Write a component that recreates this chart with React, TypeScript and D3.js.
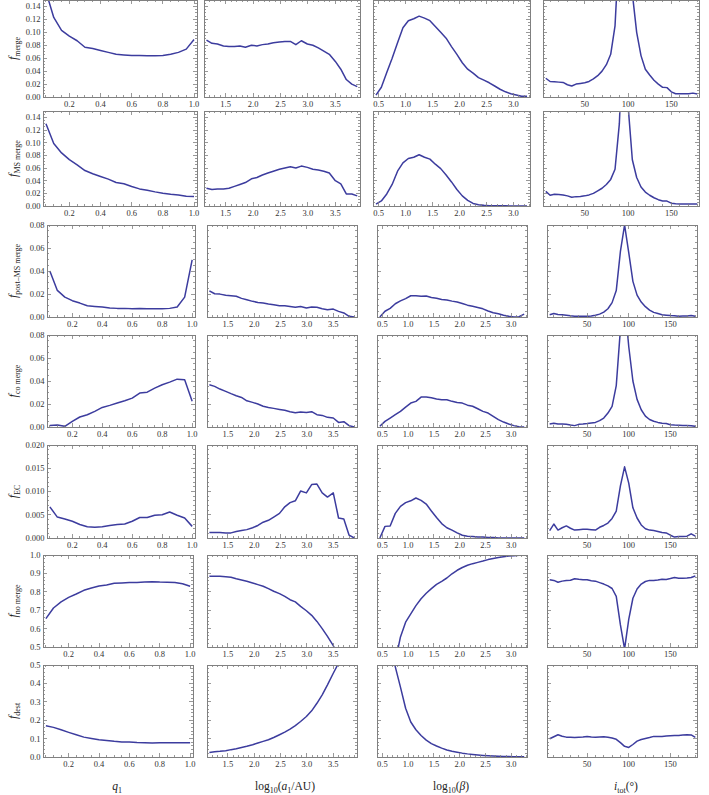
import React from "react";
import * as d3 from "d3";

// x grids of the four columns
const qVals = [0.05, 0.1, 0.15, 0.2, 0.25, 0.3, 0.35, 0.4, 0.45, 0.5, 0.55, 0.6, 0.65, 0.7, 0.75, 0.8, 0.85, 0.9, 0.95, 1.0];
const logAVals = [1.15, 1.25, 1.35, 1.46, 1.56, 1.66, 1.76, 1.86, 1.97, 2.07, 2.17, 2.27, 2.37, 2.48, 2.58, 2.68, 2.78, 2.88, 2.99, 3.09, 3.19, 3.29, 3.39, 3.5, 3.6, 3.7, 3.8, 3.9];
const logBetaVals = [0.45, 0.55, 0.65, 0.75, 0.85, 0.95, 1.05, 1.15, 1.25, 1.35, 1.45, 1.55, 1.65, 1.75, 1.85, 1.95, 2.05, 2.15, 2.25, 2.35, 2.45, 2.55, 2.65, 2.75, 2.85, 2.95, 3.05, 3.15, 3.25];
const incVals = [5, 10, 15, 20, 25, 30, 35, 40, 45, 50, 55, 60, 65, 70, 75, 80, 85, 90, 95, 100, 105, 110, 115, 120, 125, 130, 135, 140, 145, 150, 155, 160, 165, 170, 175, 180];

// f_merge
const mergeQ = [0.163, 0.123, 0.103, 0.094, 0.087, 0.077, 0.075, 0.072, 0.069, 0.066, 0.065, 0.064, 0.064, 0.0637, 0.0637, 0.064, 0.066, 0.069, 0.074, 0.089];
const mergeA = [0.088, 0.083, 0.082, 0.079, 0.078, 0.078, 0.079, 0.077, 0.08, 0.079, 0.081, 0.082, 0.084, 0.085, 0.086, 0.086, 0.081, 0.087, 0.082, 0.08, 0.076, 0.071, 0.066, 0.055, 0.043, 0.027, 0.02, 0.016];
const mergeB = [0.003, 0.015, 0.038, 0.06, 0.084, 0.107, 0.118, 0.121, 0.125, 0.122, 0.118, 0.109, 0.1, 0.091, 0.078, 0.066, 0.053, 0.043, 0.037, 0.03, 0.026, 0.022, 0.017, 0.012, 0.008, 0.005, 0.003, 0.001, 0.001];
const mergeI = [0.029, 0.024, 0.0235, 0.023, 0.0225, 0.019, 0.017, 0.02, 0.021, 0.022, 0.024, 0.028, 0.033, 0.04, 0.05, 0.066, 0.11, 0.24, 0.4, 0.3, 0.16, 0.1, 0.064, 0.043, 0.034, 0.026, 0.02, 0.015, 0.0145, 0.008, 0.005, 0.005, 0.005, 0.005, 0.006, 0.0045];

// f_MS merge
const msMergeQ = [0.13, 0.0987, 0.0838, 0.0732, 0.065, 0.056, 0.051, 0.0467, 0.0424, 0.0371, 0.035, 0.0308, 0.027, 0.025, 0.0223, 0.02, 0.0186, 0.0175, 0.0154, 0.0149];
const msMergeA = [0.028, 0.026, 0.027, 0.027, 0.028, 0.031, 0.034, 0.037, 0.043, 0.045, 0.049, 0.052, 0.055, 0.058, 0.06, 0.062, 0.06, 0.063, 0.061, 0.058, 0.057, 0.055, 0.052, 0.04, 0.035, 0.019, 0.019, 0.016];
const msMergeB = [0.003, 0.008, 0.019, 0.034, 0.055, 0.068, 0.075, 0.077, 0.081, 0.077, 0.074, 0.066, 0.059, 0.049, 0.038, 0.026, 0.016, 0.009, 0.004, 0.002, 0.001, 0.0005, 0.0003, 0.0002, 0.0002, 0.0001, 0.0001, 0, 0];
const msMergeI = [0.023, 0.017, 0.0185, 0.018, 0.0175, 0.016, 0.0138, 0.0148, 0.015, 0.016, 0.0175, 0.02, 0.024, 0.028, 0.034, 0.042, 0.058, 0.13, 0.3, 0.16, 0.073, 0.045, 0.03, 0.022, 0.017, 0.013, 0.01, 0.008, 0.0078, 0.0045, 0.0035, 0.003, 0.003, 0.003, 0.0032, 0.003];

// f_post-MS merge
const postQ = [0.04, 0.0231, 0.0173, 0.0142, 0.0121, 0.0098, 0.0092, 0.0087, 0.0078, 0.0075, 0.0075, 0.0072, 0.0074, 0.0072, 0.0072, 0.0072, 0.0075, 0.0087, 0.0173, 0.0497];
const postA = [0.0228, 0.0202, 0.0199, 0.019, 0.0185, 0.018, 0.0162, 0.015, 0.0136, 0.0127, 0.0121, 0.0113, 0.0107, 0.0098, 0.0098, 0.0092, 0.0084, 0.0092, 0.0078, 0.0087, 0.0084, 0.0072, 0.0064, 0.0069, 0.0049, 0.0035, 0.0006, 0];
const postB = [0, 0.005, 0.0075, 0.0115, 0.014, 0.016, 0.0185, 0.0185, 0.018, 0.0183, 0.017, 0.0163, 0.0152, 0.0148, 0.0138, 0.013, 0.0118, 0.0103, 0.0093, 0.0083, 0.0071, 0.0052, 0.0037, 0.0028, 0.0016, 0.0007, 0.0001, 0.0003, 0.0025];
const postI = [0.002, 0.003, 0.0022, 0.002, 0.0015, 0.001, 0.0007, 0.0006, 0.0006, 0.0006, 0.0008, 0.0015, 0.0025, 0.0043, 0.0072, 0.0125, 0.023, 0.057, 0.08, 0.056, 0.031, 0.019, 0.013, 0.009, 0.006, 0.004, 0.003, 0.002, 0.0016, 0.0012, 0.001, 0.0007, 0.0008, 0.0009, 0.0014, 0.0007];

// f_co merge
const coQ = [0.0014, 0.0017, 0.0006, 0.0049, 0.0087, 0.0107, 0.0136, 0.017, 0.0188, 0.0208, 0.0228, 0.0251, 0.0295, 0.0303, 0.0338, 0.0367, 0.039, 0.0416, 0.041, 0.0223];
const coA = [0.0367, 0.0353, 0.033, 0.031, 0.029, 0.0272, 0.0257, 0.0228, 0.0214, 0.02, 0.018, 0.017, 0.0162, 0.0153, 0.0145, 0.0133, 0.0124, 0.013, 0.0127, 0.0133, 0.0107, 0.0101, 0.0084, 0.0078, 0.004, 0.0046, 0.0012, 0];
const coB = [0.0006, 0.0049, 0.0078, 0.0107, 0.0136, 0.0173, 0.0208, 0.0223, 0.026, 0.026, 0.0254, 0.0243, 0.0237, 0.0237, 0.0223, 0.0214, 0.0208, 0.019, 0.018, 0.0159, 0.0136, 0.0121, 0.0092, 0.0064, 0.0043, 0.0026, 0.0012, 0.0003, 0];
const coI = [0.0026, 0.0032, 0.0026, 0.0026, 0.0023, 0.0017, 0.0012, 0.0023, 0.0026, 0.003, 0.0035, 0.004, 0.0055, 0.0078, 0.0121, 0.018, 0.036, 0.085, 0.11, 0.07, 0.04, 0.024, 0.015, 0.0095, 0.0065, 0.005, 0.004, 0.0033, 0.003, 0.002, 0.0017, 0.0015, 0.0012, 0.0012, 0.001, 0.0006];

// f_EC
const ecQ = [0.0067, 0.0045, 0.0041, 0.0036, 0.0029, 0.0024, 0.0023, 0.0024, 0.0027, 0.0029, 0.003, 0.0036, 0.0044, 0.0044, 0.0049, 0.005, 0.0056, 0.0049, 0.0043, 0.0025];
const ecA = [0.0012, 0.0012, 0.0012, 0.0011, 0.0011, 0.0014, 0.0016, 0.0018, 0.0022, 0.0027, 0.0034, 0.0038, 0.0045, 0.0053, 0.0067, 0.0076, 0.008, 0.0101, 0.0097, 0.0115, 0.0116, 0.0097, 0.0088, 0.0097, 0.0043, 0.0041, 0.0006, 0];
const ecB = [0, 0.0025, 0.0026, 0.0053, 0.0068, 0.0076, 0.008, 0.0086, 0.0081, 0.0073, 0.0058, 0.0044, 0.0031, 0.0022, 0.0017, 0.0011, 0.0006, 0.0004, 0.0003, 0.0002, 0.0002, 0.0001, 0.0001, 0, 0, 0, 0, 0, 0];
const ecI = [0.0016, 0.003, 0.0017, 0.0022, 0.0026, 0.0021, 0.0017, 0.0018, 0.0019, 0.0019, 0.0018, 0.0017, 0.0023, 0.0027, 0.0032, 0.0042, 0.0058, 0.0112, 0.0153, 0.0118, 0.0065, 0.0043, 0.0028, 0.002, 0.0017, 0.0016, 0.0014, 0.0012, 0.0011, 0.0006, 0.0002, 0.0003, 0.0003, 0.0004, 0.0009, 0.0004];

// f_no merge
const noMergeQ = [0.654, 0.712, 0.745, 0.77, 0.788, 0.808, 0.821, 0.832, 0.837, 0.846, 0.848, 0.85, 0.851, 0.853, 0.855, 0.853, 0.852, 0.85, 0.844, 0.83];
const noMergeA = [0.884, 0.884, 0.884, 0.882, 0.879, 0.871, 0.864, 0.857, 0.848, 0.839, 0.83, 0.817, 0.803, 0.79, 0.775, 0.757, 0.745, 0.721, 0.697, 0.672, 0.639, 0.6, 0.558, 0.507, 0.45, 0.39, 0.33, 0.26];
const noMergeB = [0.14, 0.23, 0.34, 0.42, 0.555, 0.635, 0.68, 0.725, 0.762, 0.792, 0.817, 0.84, 0.857, 0.875, 0.898, 0.917, 0.932, 0.944, 0.953, 0.96, 0.967, 0.975, 0.981, 0.987, 0.991, 0.994, 0.996, 0.998, 1.0];
const noMergeI = [0.866, 0.862, 0.852, 0.858, 0.862, 0.863, 0.871, 0.868, 0.866, 0.865, 0.86, 0.858, 0.85, 0.842, 0.832, 0.818, 0.775, 0.62, 0.49, 0.65, 0.765, 0.815, 0.842, 0.856, 0.862, 0.862, 0.864, 0.868, 0.867, 0.872, 0.878, 0.874, 0.874, 0.875, 0.878, 0.886];

// f_dest
const destQ = [0.17, 0.161, 0.148, 0.134, 0.121, 0.108, 0.101, 0.094, 0.09, 0.085, 0.081, 0.081, 0.079, 0.078, 0.076, 0.077, 0.078, 0.078, 0.077, 0.077];
const destA = [0.025, 0.029, 0.031, 0.034, 0.04, 0.045, 0.052, 0.058, 0.067, 0.076, 0.085, 0.094, 0.106, 0.121, 0.135, 0.152, 0.171, 0.193, 0.22, 0.251, 0.292, 0.338, 0.392, 0.455, 0.51, 0.58, 0.65, 0.72];
const destB = [0.85, 0.75, 0.62, 0.49, 0.38, 0.265, 0.19, 0.148, 0.117, 0.092, 0.073, 0.06, 0.048, 0.038, 0.031, 0.026, 0.021, 0.017, 0.014, 0.011, 0.0085, 0.0065, 0.005, 0.0038, 0.003, 0.0024, 0.002, 0.0015, 0.0012];
const destI = [0.099, 0.11, 0.121, 0.113, 0.108, 0.108, 0.106, 0.108, 0.109, 0.112, 0.109, 0.108, 0.109, 0.11, 0.107, 0.103, 0.096, 0.078, 0.058, 0.052, 0.068, 0.086, 0.095, 0.101, 0.106, 0.112, 0.112, 0.112, 0.114, 0.116, 0.117, 0.117, 0.119, 0.121, 0.12, 0.107];

// tick labels
const qTicks = [0.2, 0.4, 0.6, 0.8, 1.0];
const logATicks = [1.5, 2.0, 2.5, 3.0, 3.5];
const logBetaTicks = [0.5, 1.0, 1.5, 2.0, 2.5, 3.0];
const incTicks = [50, 100, 150];
const yTicksWide = [0, 0.02, 0.04, 0.06, 0.08, 0.1, 0.12, 0.14];
const yTicksSmall = [0, 0.02, 0.04, 0.06, 0.08];
const yTicksEC = [0, 0.005, 0.01, 0.015, 0.02];
const yTicksNoMerge = [0.5, 0.6, 0.7, 0.8, 0.9, 1.0];
const yTicksDest = [0, 0.1, 0.2, 0.3, 0.4, 0.5];

const W = 709;
const H = 795;
const LINE = "#3c3c9e";
const FRAME = "#808080";
const SERIF = "'Liberation Serif', 'DejaVu Serif', serif";

// panel frames in pixels
const rowBands = [[0, 97], [111, 206], [225, 317], [335, 427], [445, 538], [555, 647], [665, 757]];
const colsWide = [[43, 197], [204, 360], [373, 530], [543, 699]];
const colsMid = [[47, 195], [207, 357], [377, 527], [547, 697]];
const colsLow = [[43, 193], [207, 357], [377, 527], [547, 697]];
const colBandsByRow = [colsWide, colsWide, colsMid, colsMid, colsMid, colsLow, colsLow];

const columns = [
  { xs: qVals, domain: [0.031, 1.019], major: qTicks, minorStep: 0.05, fmt: d3.format(".1f") },
  { xs: logAVals, domain: [1.105, 3.95], major: logATicks, minorStep: 0.1, fmt: d3.format(".1f") },
  { xs: logBetaVals, domain: [0.395, 3.305], major: logBetaTicks, minorStep: 0.1, fmt: d3.format(".1f") },
  { xs: incVals, domain: [1.8, 182], major: incTicks, minorStep: 10, fmt: d3.format("d") },
];

const rows = [
  { sub: "merge", domain: [0, 0.15], major: yTicksWide, minorStep: 0.005, fmt: d3.format(".2f"), series: [mergeQ, mergeA, mergeB, mergeI] },
  { sub: "MS merge", domain: [0, 0.15], major: yTicksWide, minorStep: 0.005, fmt: d3.format(".2f"), series: [msMergeQ, msMergeA, msMergeB, msMergeI] },
  { sub: "post\u2013MS merge", domain: [0, 0.08], major: yTicksSmall, minorStep: 0.005, fmt: d3.format(".2f"), series: [postQ, postA, postB, postI] },
  { sub: "co merge", domain: [0, 0.08], major: yTicksSmall, minorStep: 0.005, fmt: d3.format(".2f"), series: [coQ, coA, coB, coI] },
  { sub: "EC", domain: [0, 0.02], major: yTicksEC, minorStep: 0.001, fmt: d3.format(".3f"), series: [ecQ, ecA, ecB, ecI] },
  { sub: "no merge", domain: [0.5, 1.0], major: yTicksNoMerge, minorStep: 0.02, fmt: d3.format(".1f"), series: [noMergeQ, noMergeA, noMergeB, noMergeI] },
  { sub: "dest", domain: [0, 0.5], major: yTicksDest, minorStep: 0.02, fmt: d3.format(".1f"), series: [destQ, destA, destB, destI] },
];

function minorTicks(d0: number, d1: number, step: number) {
  const out: number[] = [];
  for (let k = Math.ceil(d0 / step - 1e-9); k * step <= d1 + 1e-9; k++) out.push(k * step);
  return out;
}

function Panel({ ri, ci }: { ri: number; ci: number }) {
  const row = rows[ri];
  const col = columns[ci];
  const [y0, y1] = rowBands[ri];
  const [x0, x1] = colBandsByRow[ri][ci];
  const x = d3.scaleLinear().domain(col.domain).range([x0, x1]);
  const y = d3.scaleLinear().domain(row.domain).range([y1, y0]);
  const ys = row.series[ci];
  const pts = col.xs.map((v, i) => [v, ys[i]] as [number, number]);
  const line = d3
    .line<[number, number]>()
    .x((d) => x(d[0]))
    .y((d) => y(d[1]));
  const clipId = `clip-${ri}-${ci}`;
  const xMinor = minorTicks(col.domain[0], col.domain[1], col.minorStep);
  const yMinor = minorTicks(row.domain[0], row.domain[1], row.minorStep);
  const isMajor = (v: number, majors: number[]) => majors.some((m) => Math.abs(m - v) < 1e-7);

  return (
    <g>
      <defs>
        <clipPath id={clipId}>
          <rect x={x0} y={y0} width={x1 - x0} height={y1 - y0} />
        </clipPath>
      </defs>
      <path d={line(pts) || ""} fill="none" stroke={LINE} strokeWidth={1.5} strokeLinejoin="round" clipPath={`url(#${clipId})`} />
      <g stroke={FRAME} strokeWidth={0.8} shapeRendering="crispEdges">
        {xMinor.map((v) => {
          const len = isMajor(v, col.major) ? 4 : 2;
          const px = x(v);
          return (
            <g key={`xt${v}`}>
              <line x1={px} x2={px} y1={y1} y2={y1 - len} />
              <line x1={px} x2={px} y1={y0} y2={y0 + len} />
            </g>
          );
        })}
        {yMinor.map((v) => {
          const len = isMajor(v, row.major) ? 4 : 2;
          const py = y(v);
          return (
            <g key={`yt${v}`}>
              <line x1={x0} x2={x0 + len} y1={py} y2={py} />
              <line x1={x1} x2={x1 - len} y1={py} y2={py} />
            </g>
          );
        })}
      </g>
      <rect x={x0} y={y0} width={x1 - x0} height={y1 - y0} fill="none" stroke={FRAME} strokeWidth={1} shapeRendering="crispEdges" />
      <g fontFamily={SERIF} fontSize={8.5} fill="#333">
        {col.major.map((v) => (
          <text key={`xl${v}`} x={x(v)} y={y1 + 9.5} textAnchor="middle">
            {col.fmt(v)}
          </text>
        ))}
        {ci === 0 &&
          row.major.map((v) => (
            <text key={`yl${v}`} x={x0 - 2.5} y={y(v)} dy="0.35em" textAnchor="end">
              {row.fmt(v)}
            </text>
          ))}
      </g>
    </g>
  );
}

export default function App() {
  const subStyle = { fontSize: 8 };
  return (
    <svg width={W} height={H} style={{ position: "absolute", left: 0, top: 0, background: "#fff" }}>
      <rect width={W} height={H} fill="#fff" />
      {rows.map((row, ri) =>
        columns.map((_, ci) => <Panel key={`${ri}-${ci}`} ri={ri} ci={ci} />)
      )}
      {rows.map((row, ri) => {
        const cy = (rowBands[ri][0] + rowBands[ri][1]) / 2;
        return (
          <text key={`lab${ri}`} transform={`translate(17,${cy}) rotate(-90)`} textAnchor="middle" fontFamily={SERIF} fill="#222">
            <tspan fontStyle="italic" fontSize={12}>f</tspan>
            <tspan style={subStyle} dy={2.5}>{row.sub}</tspan>
          </text>
        );
      })}
      <g fontFamily={SERIF} fontSize={11.5} fill="#222" textAnchor="middle">
        <text x={117} y={790}>
          <tspan fontStyle="italic">q</tspan>
          <tspan style={subStyle} dy={3}>1</tspan>
        </text>
        <text x={285} y={790}>
          <tspan>log</tspan>
          <tspan style={subStyle} dy={3}>10</tspan>
          <tspan dy={-3}>(</tspan>
          <tspan fontStyle="italic">a</tspan>
          <tspan style={subStyle} dy={3}>1</tspan>
          <tspan dy={-3}>/AU)</tspan>
        </text>
        <text x={451} y={790}>
          <tspan>log</tspan>
          <tspan style={subStyle} dy={3}>10</tspan>
          <tspan dy={-3}>(</tspan>
          <tspan fontStyle="italic">β</tspan>
          <tspan>)</tspan>
        </text>
        <text x={626} y={790}>
          <tspan fontStyle="italic">i</tspan>
          <tspan style={subStyle} dy={3}>tot</tspan>
          <tspan dy={-3}>(°)</tspan>
        </text>
      </g>
    </svg>
  );
}
